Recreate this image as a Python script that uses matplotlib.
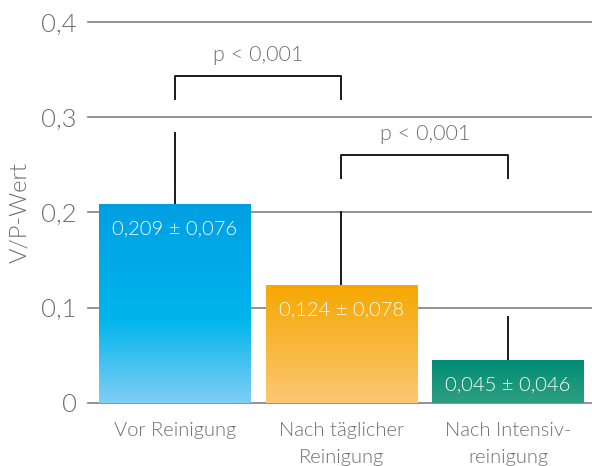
import matplotlib.pyplot as plt
import numpy as np
from matplotlib.colors import LinearSegmentedColormap

plt.rcParams['font.family'] = ['Lato', 'DejaVu Sans']
plt.rcParams['font.weight'] = 300

categories = ['Vor Reinigung', 'Nach täglicher\nReinigung', 'Nach Intensiv-\nreinigung']
means = [0.209, 0.124, 0.045]
sds = [0.076, 0.078, 0.046]
value_labels = ['0,209 ± 0,076', '0,124 ± 0,078', '0,045 ± 0,046']
yticks = [0, 0.1, 0.2, 0.3, 0.4]
ytick_labels = ['0', '0,1', '0,2', '0,3', '0,4']
# significance brackets: (left bar, right bar, bracket top, text)
brackets = [(0, 1, 0.3435, 'p < 0,001'), (1, 2, 0.2605, 'p < 0,001')]

# gradient stops bottom -> top
gradients = [
    [(0.0, '#80CEF4'), (0.42, '#00B5EC'), (1.0, '#009FE2')],
    [(0.0, '#FBC874'), (1.0, '#F6A700')],
    [(0.0, '#2F9F83'), (1.0, '#008C74')],
]

gray = '#6E6E6E'
grid_col = '#808080'

fig = plt.figure(figsize=(5.92, 4.66), dpi=100)
ax = fig.add_axes([0.1486, 0.1352, 0.8514, 0.8176])
ax.set_xlim(-0.521, 2.503)
ax.set_ylim(0, 0.4)

for t in yticks:
    ax.axhline(t, color=grid_col, lw=1.2, zorder=1, clip_on=False)

x = np.arange(len(means))
width = 0.91
bars = ax.bar(x, means, width=width, color='none', zorder=2)
for i, b in enumerate(bars):
    cmap = LinearSegmentedColormap.from_list('g%d' % i, gradients[i])
    grad = np.linspace(1, 0, 256).reshape(-1, 1)
    im = ax.imshow(grad, cmap=cmap, aspect='auto', zorder=2,
                   extent=[b.get_x(), b.get_x() + width, 0, means[i]])
    im.set_clip_path(b)
    ax.vlines(x[i], means[i], means[i] + sds[i], color='#1A1A1A', lw=1.4, zorder=3)
    ax.text(x[i], means[i] - 0.026, value_labels[i], color='white', fontsize=14.5,
            ha='center', va='center', zorder=4, fontweight=300)

for a, c, top, txt in brackets:
    ax.plot([a, a, c, c], [top - 0.0245, top, top, top - 0.0245],
            color='#1A1A1A', lw=1.4, zorder=3)
    ax.text((a + c) / 2, top + 0.011, txt, color=gray, fontsize=15.5,
            ha='center', va='bottom', fontweight=300)

ax.set_yticks(yticks)
ax.set_yticklabels(ytick_labels, fontweight=300)
ax.set_xticks(x)
ax.set_xticklabels(categories, linespacing=1.7, fontweight=300)
ax.tick_params(axis='y', length=0, labelsize=18.5, labelcolor=gray, pad=8)
ax.tick_params(axis='x', length=0, labelsize=14.5, labelcolor=gray, pad=14)
for s in ax.spines.values():
    s.set_visible(False)
ax.set_ylabel('V/P-Wert', fontsize=17, color=gray, labelpad=8, fontweight=300)

fig.savefig('out.png', dpi=100)
